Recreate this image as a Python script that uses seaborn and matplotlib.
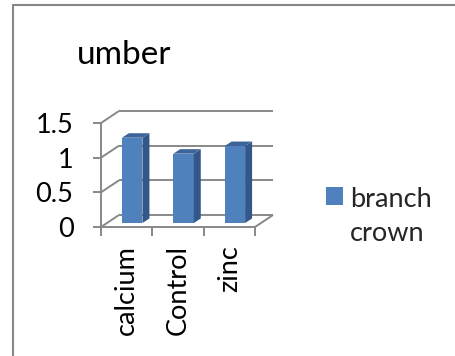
import textwrap

import matplotlib
matplotlib.use("Agg")
import matplotlib.pyplot as plt
from matplotlib.lines import Line2D
from matplotlib.patches import Polygon
from matplotlib.transforms import ScaledTranslation
import pandas as pd
import seaborn as sns

# ---- data -------------------------------------------------------------
treatments = ["calcium", "Control", "zinc"]
values = [1.23, 1.0, 1.11]
series_name = "branch crown"
chart_title = "umber"
y_ticks = [0, 0.5, 1, 1.5]
y_tick_labels = ["0", "0.5", "1", "1.5"]

df = pd.DataFrame({"treatment": treatments, "value": values,
                   "series": [series_name] * len(treatments)})

# ---- style ------------------------------------------------------------
sns.set_style("white")
plt.rcParams["font.family"] = ["Lato", "DejaVu Sans"]

FRONT = "#4F81BD"
SIDE = "#34578A"
TOP = "#3D659A"
GRID = "#888888"
LABEL_PT = 19.5

W, H, DPI = 4.55, 3.56, 100
fig = plt.figure(figsize=(W, H), dpi=DPI)
fig.patch.set_facecolor("white")

# axes = the plane in which the bars stand (middle depth of the 3-D box)
ax = fig.add_axes([106.5 / 455, (356 - 223) / 356, 154 / 455, 104 / 356])
ax.set_facecolor("none")

sns.barplot(data=df, x="treatment", y="value", hue="series",
            palette=[FRONT], dodge=False, width=0.40, linewidth=0,
            saturation=1, ax=ax, legend=True, zorder=3)

n = len(treatments)
ax.set_xlim(-0.5, n - 0.5)
ax.set_ylim(0, 1.5)
for s in ax.spines.values():
    s.set_visible(False)
ax.set_xlabel("")
ax.set_ylabel("")

# pixel offsets of the front and back planes relative to the bar plane
FRONT_OFF = (-5.5, -4.0)
BACK_OFF = (12.5, 8.0)
DEPTH = (7.0, 4.5)   # depth of each bar

to_fig = fig.transFigure.inverted()


def pt(x, y, off=(0, 0)):
    d = ax.transData.transform((x, y))
    return to_fig.transform((d[0] + off[0], d[1] + off[1]))


def seg(p, q, z=0.5):
    ln = Line2D([p[0], q[0]], [p[1], q[1]], transform=fig.transFigure,
                color=GRID, lw=1.4, zorder=z, clip_on=False,
                solid_capstyle="butt")
    ax.add_line(ln)


x0, x1 = -0.5, n - 0.5
# back wall gridlines and left wall diagonals
for yv in y_ticks:
    seg(pt(x0, yv, BACK_OFF), pt(x1, yv, BACK_OFF))
    seg(pt(x0, yv, FRONT_OFF), pt(x0, yv, BACK_OFF))
# floor
seg(pt(x1, 0, FRONT_OFF), pt(x1, 0, BACK_OFF))
seg(pt(x0, 0, FRONT_OFF), pt(x1, 0, FRONT_OFF), z=5)
# vertical value axis with tick marks
seg(pt(x0, 0, FRONT_OFF), pt(x0, 1.5, FRONT_OFF), z=5)
for yv in y_ticks:
    seg(pt(x0, yv, (FRONT_OFF[0] - 8, FRONT_OFF[1])),
        pt(x0, yv, FRONT_OFF), z=5)
# category tick marks below the floor edge
for k in range(n + 1):
    xv = k - 0.5
    seg(pt(xv, 0, FRONT_OFF), pt(xv, 0, (FRONT_OFF[0], FRONT_OFF[1] - 9)),
        z=5)

# side and top faces of each bar, built from the drawn bars
for bar in ax.patches:
    bx0 = bar.get_x()
    bx1 = bx0 + bar.get_width()
    top = bar.get_y() + bar.get_height()
    side = [pt(bx1, 0), pt(bx1, 0, DEPTH), pt(bx1, top, DEPTH), pt(bx1, top)]
    cap = [pt(bx0, top), pt(bx0, top, DEPTH), pt(bx1, top, DEPTH),
           pt(bx1, top)]
    ax.add_patch(Polygon(side, closed=True, transform=fig.transFigure,
                         facecolor=SIDE, edgecolor="none", zorder=3.1,
                         clip_on=False))
    ax.add_patch(Polygon(cap, closed=True, transform=fig.transFigure,
                         facecolor=TOP, edgecolor="none", zorder=3.1,
                         clip_on=False))

# tick labels sit on the front plane
ax.set_yticks(y_ticks)
ax.set_yticklabels(y_tick_labels)
ax.tick_params(axis="y", length=0, pad=33 * 72 / DPI,
               labelsize=LABEL_PT, colors="black")
ax.tick_params(axis="x", length=0, pad=22 * 72 / DPI, labelsize=LABEL_PT,
               colors="black", labelrotation=90)
for lab in ax.get_xticklabels():
    lab.set_transform(lab.get_transform()
                      + ScaledTranslation(FRONT_OFF[0] / DPI, 0,
                                          fig.dpi_scale_trans))
for lab in ax.get_yticklabels():
    lab.set_transform(lab.get_transform()
                      + ScaledTranslation(0, FRONT_OFF[1] / DPI,
                                          fig.dpi_scale_trans))

# legend to the right of the plot
sns.move_legend(ax, "upper left", bbox_to_anchor=(326 / 455, 1 - 187 / 356),
                bbox_transform=fig.transFigure, frameon=False, title=None,
                fontsize=LABEL_PT, handlelength=0.62, handleheight=0.62,
                handletextpad=0.27, borderpad=0, borderaxespad=0)
leg = ax.get_legend()
for txt in leg.get_texts():
    txt.set_text(textwrap.fill(txt.get_text(), 6))
    txt.set_linespacing(1.45)
# square key level with the first line of the wrapped label
for column in leg._legend_handle_box.get_children():
    for entry in column.get_children():
        entry.align = "top"

# chart title
fig.text(77 / 455, 1 - 64 / 356, chart_title, ha="left", va="baseline",
         fontsize=24, color="black")

# chart-area border
bx, by = 12.5 / 455, 1 - 5 / 356
fig.add_artist(Line2D([bx, bx], [0, by], transform=fig.transFigure,
                      color="#878787", lw=1.5))
fig.add_artist(Line2D([bx, 1], [by, by], transform=fig.transFigure,
                      color="#878787", lw=1.5))

fig.savefig("out.png", dpi=DPI, facecolor="white")
